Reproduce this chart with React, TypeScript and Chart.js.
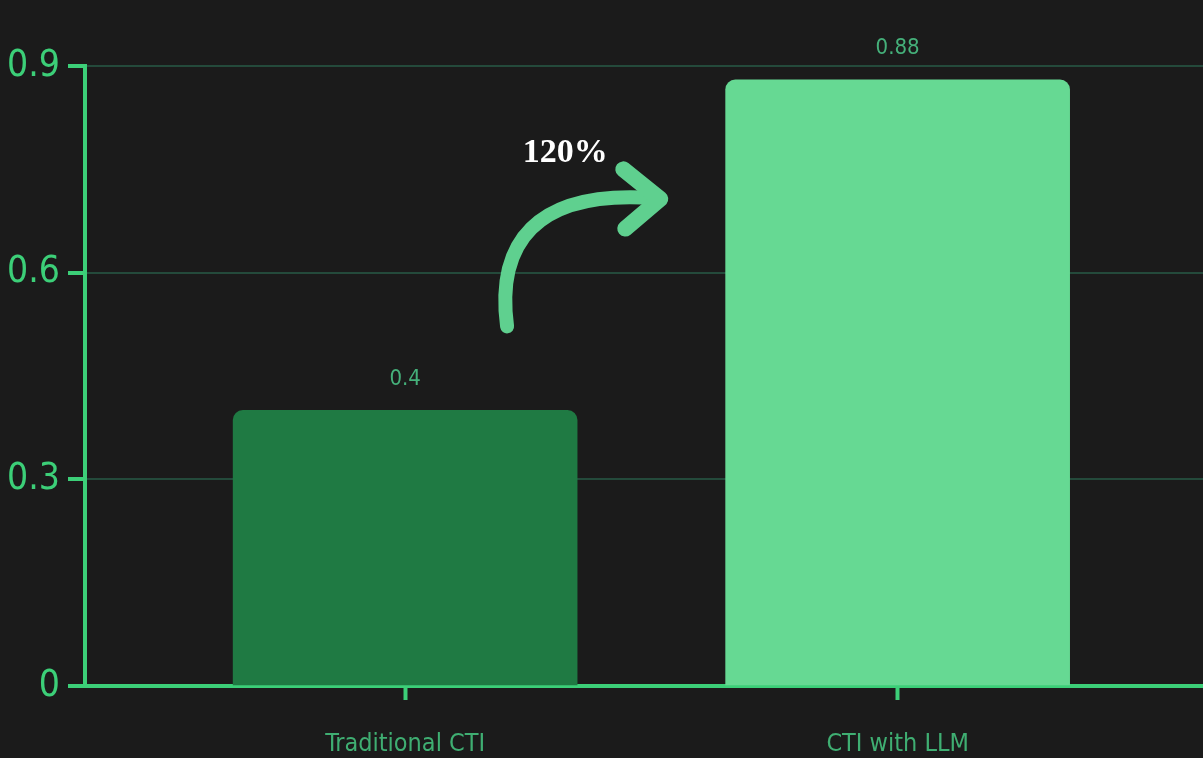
import React, { useEffect, useRef } from "react";
import { Chart, registerables } from "chart.js";

Chart.register(...registerables);

const categories = ["Traditional CTI", "CTI with LLM"];
const values = [0.4, 0.88];
const barColors = ["#1f7a43", "#66d993"];
const yTicks = [0, 0.3, 0.6, 0.9];
const growthLabel = "120%";

const GREEN = "#3ccf78";
const NARROW = '"Liberation Sans Narrow", "DejaVu Sans Condensed", "Roboto", sans-serif';

const bgPlugin = {
  id: "bg",
  beforeDraw(chart: any) {
    const { ctx, width, height } = chart;
    ctx.save();
    ctx.fillStyle = "#1b1b1b";
    ctx.fillRect(0, 0, width, height);
    ctx.restore();
  },
};

const valueLabelPlugin = {
  id: "valueLabels",
  afterDatasetsDraw(chart: any) {
    const { ctx } = chart;
    const meta = chart.getDatasetMeta(0);
    ctx.save();
    ctx.fillStyle = "#45b07a";
    ctx.font = `22px ${NARROW}`;
    ctx.textAlign = "center";
    ctx.textBaseline = "bottom";
    meta.data.forEach((el: any, i: number) => {
      ctx.fillText(String(values[i]), el.x, el.y - 20);
    });
    ctx.restore();
  },
};

const arrowPlugin = {
  id: "arrow",
  afterDraw(chart: any) {
    const { ctx } = chart;
    const xs = chart.scales.x;
    const ys = chart.scales.y;
    const P = (x: number, y: number) => [xs.getPixelForValue(x), ys.getPixelForValue(y)];
    const [sx, sy] = P(0.207, 0.522);
    const [c1x, c1y] = P(0.185, 0.64);
    const [c2x, c2y] = P(0.26, 0.722);
    const [ex, ey] = P(0.51, 0.708);
    const [h1x, h1y] = P(0.443, 0.75);
    const [h2x, h2y] = P(0.518, 0.707);
    const [h3x, h3y] = P(0.447, 0.664);
    ctx.save();
    ctx.strokeStyle = "#5fd08f";
    ctx.fillStyle = "#5fd08f";
    ctx.lineWidth = 14;
    ctx.lineCap = "round";
    ctx.lineJoin = "round";
    ctx.beginPath();
    ctx.moveTo(sx, sy);
    ctx.bezierCurveTo(c1x, c1y, c2x, c2y, ex, ey);
    ctx.stroke();
    ctx.lineWidth = 16;
    ctx.beginPath();
    ctx.moveTo(h1x, h1y);
    ctx.lineTo(h2x, h2y);
    ctx.lineTo(h3x, h3y);
    ctx.stroke();
    const [tx, ty] = P(0.325, 0.774);
    ctx.fillStyle = "#ffffff";
    ctx.font = 'bold 34px "Liberation Serif", "DejaVu Serif", serif';
    ctx.textAlign = "center";
    ctx.textBaseline = "middle";
    ctx.fillText(growthLabel, tx, ty);
    ctx.restore();
  },
};

export default function App() {
  const ref = useRef<HTMLCanvasElement>(null);
  useEffect(() => {
    document.body.style.margin = "0";
    document.body.style.background = "#1b1b1b";
    const chart = new Chart(ref.current!, {
      type: "bar",
      data: {
        datasets: [
          {
            data: values.map((v, i) => ({ x: i, y: v })),
            backgroundColor: barColors,
            barThickness: 344,
            borderRadius: { topLeft: 10, topRight: 10, bottomLeft: 0, bottomRight: 0 },
            borderSkipped: false,
          },
        ],
      },
      options: {
        animation: false,
        responsive: false,
        maintainAspectRatio: false,
        layout: { padding: { top: 66, right: 0, left: 0, bottom: 0 } },
        plugins: { legend: { display: false }, tooltip: { enabled: false } },
        scales: {
          x: {
            type: "linear",
            offset: false,
            min: -0.65,
            max: 1.62,
            afterBuildTicks: (s: any) => {
              s.ticks = categories.map((_, i) => ({ value: i }));
            },
            afterFit: (s: any) => {
              s.height = 72;
            },
            ticks: {
              callback: (v: any) => categories[v] ?? "",
              color: "#3fae72",
              font: { family: NARROW, size: 25 },
              padding: 29,
              autoSkip: false,
              maxRotation: 0,
            },
            grid: {
              offset: false,
              drawOnChartArea: false,
              tickLength: 14,
              tickWidth: 4,
              tickColor: GREEN,
            },
            border: { color: GREEN, width: 4 },
          },
          y: {
            min: 0,
            max: 0.9,
            afterBuildTicks: (s: any) => {
              s.ticks = yTicks.map((v) => ({ value: v }));
            },
            afterFit: (s: any) => {
              s.width = 85;
            },
            ticks: {
              color: GREEN,
              font: { family: NARROW, size: 37 },
              padding: 8,
              callback: (v: any) => String(v),
            },
            grid: {
              color: "#244a3b",
              lineWidth: 2,
              tickLength: 17,
              tickWidth: 4,
              tickColor: GREEN,
            },
            border: { color: GREEN, width: 4 },
          },
        },
      },
      plugins: [bgPlugin, valueLabelPlugin, arrowPlugin],
    });
    return () => chart.destroy();
  }, []);
  return (
    <div style={{ position: "absolute", left: 0, top: 0, width: 1203, height: 758, background: "#1b1b1b" }}>
      <canvas ref={ref} width={1203} height={758} style={{ width: 1203, height: 758, display: "block" }} />
    </div>
  );
}
